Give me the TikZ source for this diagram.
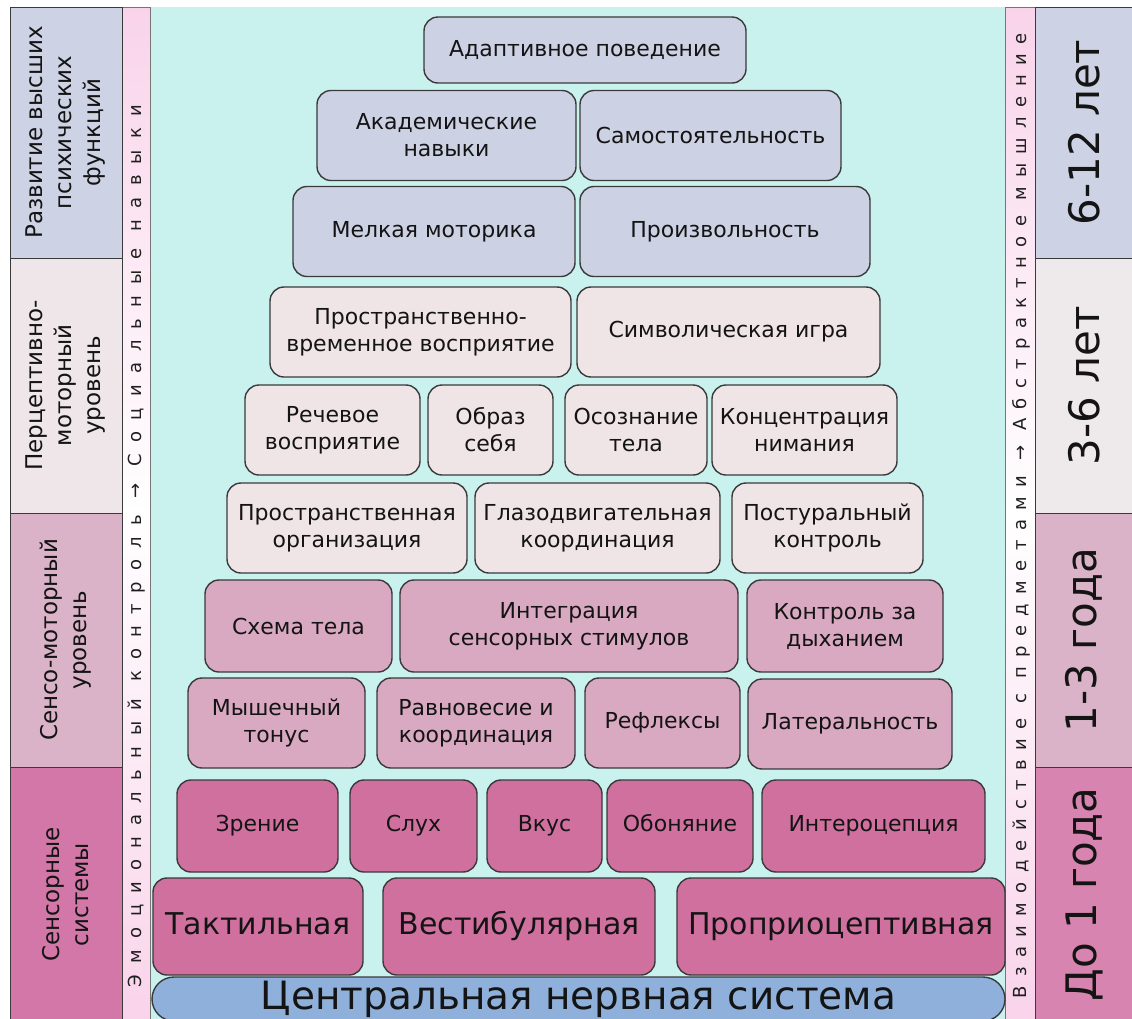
\documentclass[tikz,border=0pt]{standalone}
\usepackage{fontspec}
\setmainfont{DejaVu Sans}
\newfontfamily\leftstripfont[LetterSpace=62]{DejaVu Sans}
\newfontfamily\rightstripfont[LetterSpace=52]{DejaVu Sans}

\definecolor{topblue}{HTML}{CDD1E4}
\definecolor{midrose}{HTML}{EFE4E6}
\definecolor{dustrose}{HTML}{D9A9C2}
\definecolor{deeprose}{HTML}{D0709F}
\definecolor{nerveblue}{HTML}{8FB0DA}
\definecolor{aqua}{HTML}{C9F1EE}
\definecolor{stripink}{HTML}{F9D3EA}
\definecolor{edge}{HTML}{3A3A3A}
\definecolor{lvlone}{HTML}{CDD3E5}
\definecolor{lvltwo}{HTML}{EEE6E8}
\definecolor{lvlthree}{HTML}{DAB3C8}
\definecolor{lvlfour}{HTML}{D277A7}

\begin{document}
\begin{tikzpicture}[x=1pt, y=-1pt,
                    line width=1.4pt,
                    draw=edge]
    \tikzstyle{brick}=[draw=edge, rounded corners=14pt, align=center, inner sep=2pt,
                       text=black!92, font=\fontsize{22}{27}\selectfont]
    \tikzstyle{tall}=[minimum height=90pt]
    \tikzstyle{higher}=[brick, tall, fill=topblue]
    \tikzstyle{percept}=[brick, tall, fill=midrose]
    \tikzstyle{sensomotor}=[brick, tall, fill=dustrose]
    \tikzstyle{sensory}=[brick, tall, fill=deeprose, text height=16pt, text depth=5pt]
    \tikzstyle{bigsensory}=[sensory, minimum height=97pt, text height=22pt, text depth=7pt,
                            font=\fontsize{30}{34}\selectfont]
    \tikzstyle{levelbox}=[draw=edge, line width=1pt, rotate=90, align=center, inner sep=0pt,
                          text=black!92, font=\fontsize{23}{29}\selectfont]
    \tikzstyle{agebox}=[levelbox, font=\fontsize{42}{46}\selectfont]
    \tikzstyle{striptext}=[rotate=90, anchor=west, inner sep=0pt, text=black!88]

    \clip (0,0) rectangle (1132,1018);
    \fill[white] (0,0) rectangle (1132,1018);

    % background and side strips
    \fill[aqua] (150,7) rectangle (1005,1022);
    \shade[top color=stripink, bottom color=stripink, middle color=white, draw=edge!70, line width=1pt]
        (122,7) rectangle (150,1022);
    \shade[top color=stripink, bottom color=stripink, middle color=white, draw=edge!70, line width=1pt]
        (1005,7) rectangle (1035,1022);
    \node[striptext, font=\fontsize{18}{20}\leftstripfont] (emo) at (137,988)
        {Эмоциональный контроль → Социальные навыки};
    \node[striptext, font=\fontsize{18}{20}\rightstripfont] (obj) at (1021,999)
        {Взаимодействие с предметами → Абстрактное мышление};

    % levels
    \node[levelbox, fill=lvlone, minimum width=251pt, minimum height=112pt] (lvhigh) at (66,132.5)
        {Развитие высших\\психических\\функций};
    \node[levelbox, fill=lvltwo, minimum width=255pt, minimum height=112pt] (lvpercept) at (66,385.5)
        {Перцептивно-\\моторный\\уровень};
    \node[levelbox, fill=lvlthree, minimum width=254pt, minimum height=112pt] (lvmotor) at (66,640)
        {Сенсо-моторный\\уровень};
    \node[levelbox, fill=lvlfour, minimum width=255pt, minimum height=112pt] (lvsensory) at (66,894.5)
        {Сенсорные\\системы};

    % ages
    \node[agebox, fill=lvlone, minimum width=251pt, minimum height=98pt] (age612) at (1084,132.5) {6-12 лет};
    \node[agebox, fill=lvltwo!90!gray!60, minimum width=255pt, minimum height=98pt] (age36) at (1084,385.5) {3-6 лет};
    \node[agebox, fill=lvlthree, minimum width=254pt, minimum height=98pt] (age13) at (1084,640) {1-3 года};
    \node[agebox, fill=lvlfour!90!white, minimum width=255pt, minimum height=98pt] (age01) at (1084,894.5) {До 1 года};

    % pyramid
    \node[higher, minimum width=322pt, minimum height=66pt] (adapt) at (585,50) {Адаптивное поведение};
    \node[higher, minimum width=259pt] (academic) at (446.5,135.5) {Академические\\навыки};
    \node[higher, minimum width=261pt] (selfreliance) at (710.5,135.5) {Самостоятельность};
    \node[higher, minimum width=282pt] (finemotor) at (434,231.5) {Мелкая моторика};
    \node[higher, minimum width=290pt] (volition) at (725,231.5) {Произвольность};

    \node[percept, minimum width=301pt] (spacetime) at (420.5,332) {Пространственно-\\временное восприятие};
    \node[percept, minimum width=303pt] (symplay) at (728.5,332) {Символическая игра};
    \node[percept, minimum width=175pt] (speech) at (332.5,430) {Речевое\\восприятие};
    \node[percept, minimum width=125pt] (selfimage) at (490.5,430) {Образ\\себя};
    \node[percept, minimum width=142pt] (bodyaware) at (636,430) {Осознание\\тела};
    \node[percept, minimum width=185pt] (attention) at (804.5,430) {Концентрация\\нимания};
    \node[percept, minimum width=240pt] (spaceorg) at (347,528) {Пространственная\\организация};
    \node[percept, minimum width=245pt] (oculomotor) at (597.5,528) {Глазодвигательная\\координация};
    \node[percept, minimum width=191pt] (postural) at (827.5,528) {Постуральный\\контроль};

    \node[sensomotor, minimum width=187pt, minimum height=92pt] (bodyscheme) at (298.5,626) {Схема тела};
    \node[sensomotor, minimum width=338pt, minimum height=92pt] (integration) at (569,626) {Интеграция\\сенсорных стимулов};
    \node[sensomotor, minimum width=196pt, minimum height=92pt] (breathing) at (845,626) {Контроль за\\дыханием};
    \node[sensomotor, minimum width=177pt] (tone) at (276.5,723) {Мышечный\\тонус};
    \node[sensomotor, minimum width=198pt] (balance) at (476,723) {Равновесие и\\координация};
    \node[sensomotor, minimum width=155pt] (reflexes) at (662.5,723) {Рефлексы};
    \node[sensomotor, minimum width=204pt] (laterality) at (850,724) {Латеральность};

    \node[sensory, minimum width=161pt, minimum height=92pt] (vision) at (257.5,826) {Зрение};
    \node[sensory, minimum width=127pt, minimum height=92pt] (hearing) at (413.5,826) {Слух};
    \node[sensory, minimum width=115pt, minimum height=92pt] (taste) at (544.5,826) {Вкус};
    \node[sensory, minimum width=146pt, minimum height=92pt] (smell) at (680,826) {Обоняние};
    \node[sensory, minimum width=223pt, minimum height=92pt] (intero) at (873.5,826) {Интероцепция};
    \node[bigsensory, minimum width=210pt] (tactile) at (258,926.5) {Тактильная};
    \node[bigsensory, minimum width=272pt] (vestib) at (519,926.5) {Вестибулярная};
    \node[bigsensory, minimum width=328pt] (proprio) at (841,926.5) {Проприоцептивная};

    \node[brick, fill=nerveblue, rounded corners=22pt, inner sep=0pt, minimum width=853pt, minimum height=44pt,
          font=\fontsize{39}{42}\selectfont] (cns) at (578.5,999) {Центральная нервная система};
\end{tikzpicture}
\end{document}
